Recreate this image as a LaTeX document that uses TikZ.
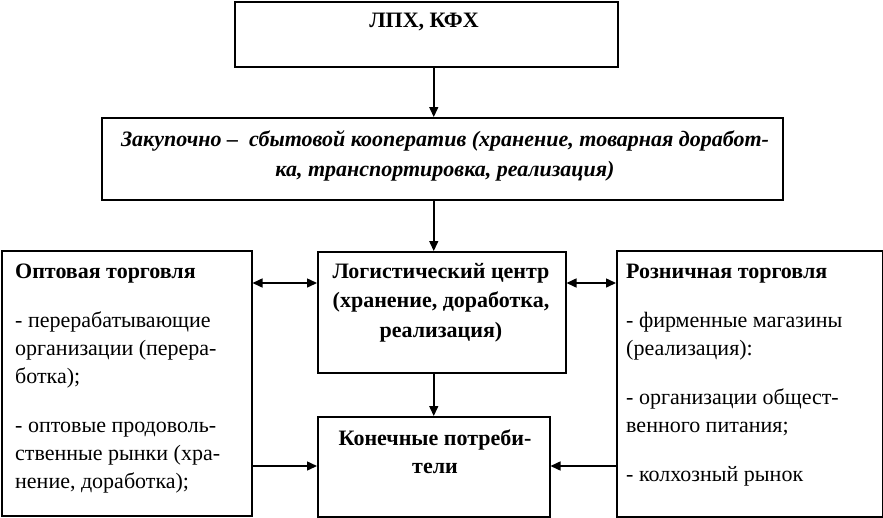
\documentclass[tikz,border=0pt]{standalone}
\usepackage{fontspec}
\setmainfont{Liberation Serif}
\usetikzlibrary{arrows.meta,calc}
\newcommand{\fl}{\rule{0pt}{17pt}}
\newcommand{\fli}{\rule{0pt}{16pt}}
\begin{document}
\begin{tikzpicture}[x=1pt,y=-1pt,
  box/.style={draw, line width=1.5pt, inner sep=0pt, anchor=north west},
  txt/.style={inner sep=0pt, font=\fontsize{22}{28}\selectfont},
  conn/.style={line width=1.5pt, -{Triangle[length=10pt,width=9pt]}},
  dconn/.style={line width=1.5pt, {Triangle[length=10pt,width=9pt]}-{Triangle[length=10pt,width=9pt]}}]
\useasboundingbox (0,0) rectangle (883,517);
% boxes
\node[box, minimum width=383pt, minimum height=65pt] (top) at (234,1) {};
\node[box, minimum width=681pt, minimum height=82pt] (coop) at (101,117) {};
\node[box, minimum width=250pt, minimum height=265pt] (left) at (1,250) {};
\node[box, minimum width=266pt, minimum height=266pt] (right) at (616,250) {};
\node[box, minimum width=248pt, minimum height=121pt] (lc) at (317,251) {};
\node[box, minimum width=232pt, minimum height=100pt] (cons) at (317,416) {};
% texts
\node[txt, anchor=north, font=\fontsize{22}{28}\selectfont\bfseries] (ttop) at (424,10) {\fl ЛПХ, КФХ};
\node[txt, anchor=north, align=center, font=\fontsize{22}{30}\selectfont\bfseries\itshape] (tcoop) at (445,130)
  {\fli Закупочно –\enspace сбытовой кооператив (хранение, товарная доработ-\\ка, транспортировка, реализация)};
\node[txt, anchor=north, align=center, font=\fontsize{22}{29.5}\selectfont\bfseries] (tlc) at (441,261)
  {\fl Логистический центр\\(хранение, доработка,\\реализация)};
\node[txt, anchor=north, align=center, font=\fontsize{22}{28}\selectfont\bfseries] (tcons) at (435,428)
  {\fl Конечные потреби-\\тели};
\node[txt, anchor=north west, align=left] (tleft) at (15,261)
  {\fl\textbf{Оптовая торговля}\\[21pt]
   - перерабатывающие\\организации (перера-\\ботка);\\[21pt]
   - оптовые продоволь-\\ственные рынки (хра-\\нение, доработка);};
\node[txt, anchor=north west, align=left] (tright) at (626,261)
  {\fl\textbf{Розничная торговля}\\[21pt]
   - фирменные магазины\\(реализация):\\[21pt]
   - организации общест-\\венного питания;\\[21pt]
   - колхозный рынок};
% connectors
\coordinate (yA) at (0,283);
\coordinate (yB) at (0,466);
\draw[conn] (top.south -| cons.north) -- (coop.north -| cons.north);
\draw[conn] (coop.south -| cons.north) -- (lc.north -| cons.north);
\draw[conn] (lc.south -| cons.north) -- (cons.north);
\draw[dconn] (left.east |- yA) -- (lc.west |- yA);
\draw[dconn] (lc.east |- yA) -- (right.west |- yA);
\draw[conn] (left.east |- yB) -- (cons.west |- yB);
\draw[conn] (right.west |- yB) -- (cons.east |- yB);
\end{tikzpicture}
\end{document}
